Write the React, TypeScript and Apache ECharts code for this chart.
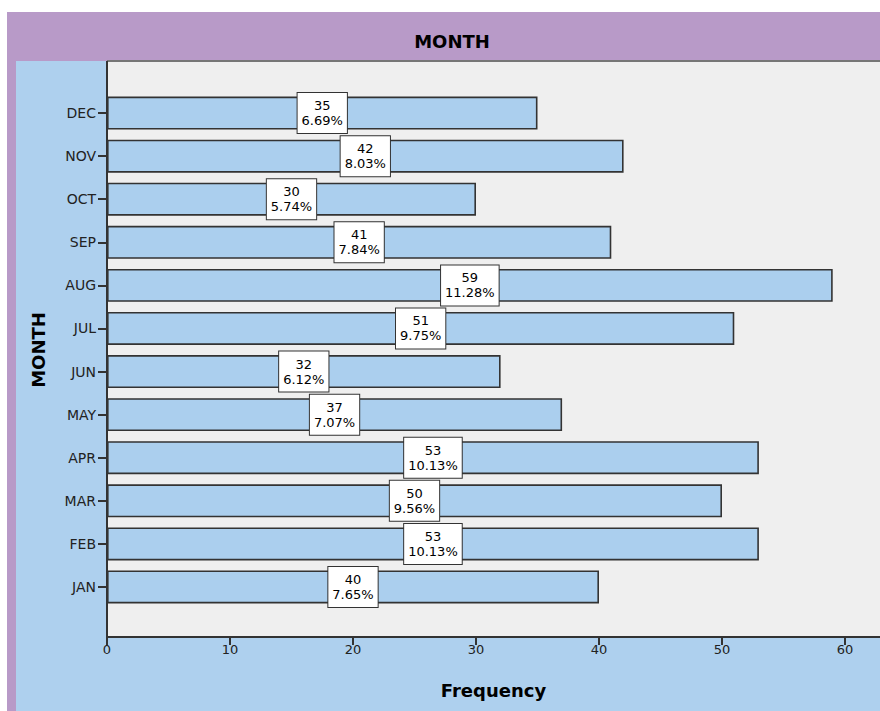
import React, { useEffect, useRef } from "react";
import * as echarts from "echarts";

const months = ["JAN", "FEB", "MAR", "APR", "MAY", "JUN", "JUL", "AUG", "SEP", "OCT", "NOV", "DEC"];
const counts = [40, 53, 50, 53, 37, 32, 51, 59, 41, 30, 42, 35];
const percents = ["7.65%", "10.13%", "9.56%", "10.13%", "7.07%", "6.12%", "9.75%", "11.28%", "7.84%", "5.74%", "8.03%", "6.69%"];
const xTicks = [0, 10, 20, 30, 40, 50, 60];

const FONT = "DejaVu Sans";

export default function App() {
  const ref = useRef<HTMLDivElement>(null);
  useEffect(() => {
    if (!ref.current) return;
    const chart = echarts.init(ref.current, undefined, { renderer: "svg" });
    const W = 880;
    const H = 711;
    const plotLeft = 107;
    const plotTop = 61;
    const plotBottom = 637;
    const gridTop = 91.5;
    const gridBottom = 608.5;
    chart.setOption({
      animation: false,
      backgroundColor: "#ffffff",
      textStyle: { fontFamily: FONT },
      title: {
        text: "MONTH",
        left: 447,
        top: 36.5,
        textAlign: "center",
        textVerticalAlign: "middle",
        textStyle: { fontFamily: FONT, fontSize: 18, fontWeight: "bold", color: "#000" },
      },
      graphic: [
        { type: "rect", z: -10, silent: true, shape: { x: 7, y: 12, width: W - 7, height: H - 12 }, style: { fill: "#b89ac8" } },
        { type: "rect", z: -9, silent: true, shape: { x: 16, y: plotTop, width: W - 16, height: H - plotTop }, style: { fill: "#aed0ee" } },
        { type: "rect", z: -8, silent: true, shape: { x: plotLeft, y: plotTop, width: W - plotLeft, height: plotBottom - plotTop }, style: { fill: "#efefef" } },
        { type: "line", z: -7, silent: true, shape: { x1: plotLeft, y1: plotTop, x2: W, y2: plotTop }, style: { stroke: "#767676", lineWidth: 2 } },
        { type: "line", z: 5, silent: true, shape: { x1: plotLeft, y1: plotTop, x2: plotLeft, y2: plotBottom }, style: { stroke: "#333333", lineWidth: 2 } },
      ],
      grid: { left: plotLeft, right: 0, top: gridTop, bottom: H - gridBottom, containLabel: false },
      xAxis: {
        type: "value",
        min: 0,
        max: (W - plotLeft) / 12.3,
        interval: 10,
        offset: plotBottom - gridBottom,
        name: "Frequency",
        nameLocation: "middle",
        nameGap: 44,
        nameTextStyle: { fontFamily: FONT, fontSize: 18, fontWeight: "bold", color: "#000" },
        axisLine: { show: true, lineStyle: { color: "#333333", width: 2 } },
        axisTick: { show: true, length: 8, lineStyle: { color: "#333333", width: 2 } },
        axisLabel: {
          showMaxLabel: false,
          margin: 6,
          fontFamily: FONT,
          fontSize: 13,
          color: "#222",
          formatter: (v: number) => (xTicks.includes(v) ? String(v) : ""),
        },
        splitLine: { show: false },
      },
      yAxis: {
        type: "category",
        data: months,
        name: "MONTH",
        nameLocation: "middle",
        nameRotate: 90,
        nameGap: 60,
        nameTextStyle: { fontFamily: FONT, fontSize: 18, fontWeight: "bold", color: "#000" },
        axisLine: { show: false },
        axisTick: { show: true, alignWithLabel: true, length: 9, lineStyle: { color: "#333333", width: 2 } },
        axisLabel: { margin: 11, fontFamily: FONT, fontSize: 14, color: "#222" },
      },
      series: [
        {
          type: "bar",
          data: counts,
          barWidth: 33,
          itemStyle: { color: "#abcfee", borderColor: "#333333", borderWidth: 1.6 },
          label: {
            show: true,
            position: "inside",
            align: "center",
            formatter: (p: any) => `${counts[p.dataIndex]}\n${percents[p.dataIndex]}`,
            fontFamily: FONT,
            fontSize: 13,
            lineHeight: 15,
            color: "#000",
            backgroundColor: "#ffffff",
            borderColor: "#333333",
            borderWidth: 1,
            padding: [5, 4],
          },
        },
      ],
    });
    return () => chart.dispose();
  }, []);
  return <div ref={ref} style={{ position: "fixed", left: 0, top: 0, width: 880, height: 711 }} />;
}
